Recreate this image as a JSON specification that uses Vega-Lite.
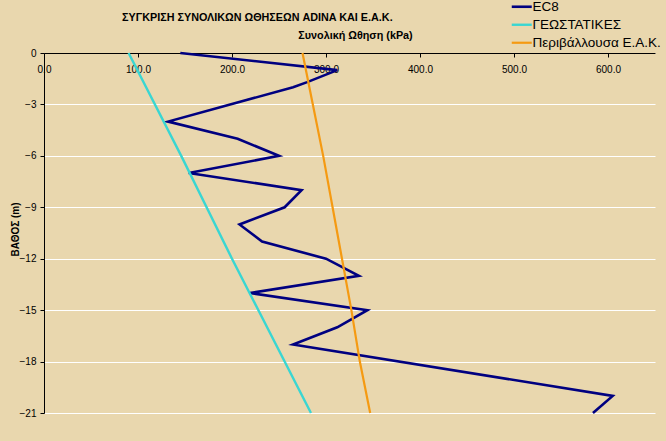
{
  "$schema": "https://vega.github.io/schema/vega-lite/v6.json",
  "width": 611,
  "height": 360,
  "autosize": {"type": "none"},
  "padding": {"left": 44, "top": 53, "right": 11, "bottom": 28},
  "background": "#E9D7AE",
  "title": {
    "text": "ΣΥΓΚΡΙΣΗ ΣΥΝΟΛΙΚΩΝ ΩΘΗΣΕΩΝ ADINA ΚΑΙ Ε.Α.Κ.",
    "font": "Liberation Sans Narrow, Liberation Sans",
    "fontSize": 10.8,
    "fontWeight": "bold",
    "color": "#000000",
    "anchor": "start",
    "frame": "group",
    "dx": 78,
    "offset": 0,
    "dy": 23
  },
  "data": {
    "values": [
      {"series": "EC8", "depth": 0, "value": 145},
      {"series": "EC8", "depth": -1, "value": 312},
      {"series": "EC8", "depth": -1.7, "value": 280},
      {"series": "EC8", "depth": -2, "value": 265},
      {"series": "EC8", "depth": -4, "value": 132},
      {"series": "EC8", "depth": -5, "value": 206},
      {"series": "EC8", "depth": -6, "value": 250},
      {"series": "EC8", "depth": -7, "value": 154},
      {"series": "EC8", "depth": -8, "value": 274},
      {"series": "EC8", "depth": -9, "value": 256},
      {"series": "EC8", "depth": -10, "value": 208},
      {"series": "EC8", "depth": -11, "value": 232},
      {"series": "EC8", "depth": -12, "value": 300},
      {"series": "EC8", "depth": -13, "value": 335},
      {"series": "EC8", "depth": -14, "value": 219},
      {"series": "EC8", "depth": -15, "value": 344},
      {"series": "EC8", "depth": -16, "value": 312},
      {"series": "EC8", "depth": -17, "value": 265},
      {"series": "EC8", "depth": -20, "value": 605},
      {"series": "EC8", "depth": -21, "value": 584},
      {"series": "ΓΕΩΣΤΑΤΙΚΕΣ", "depth": 0, "value": 90},
      {"series": "ΓΕΩΣΤΑΤΙΚΕΣ", "depth": -6, "value": 146},
      {"series": "ΓΕΩΣΤΑΤΙΚΕΣ", "depth": -12, "value": 200},
      {"series": "ΓΕΩΣΤΑΤΙΚΕΣ", "depth": -21, "value": 284},
      {"series": "Περιβάλλουσα Ε.Α.Κ.", "depth": 0, "value": 275},
      {"series": "Περιβάλλουσα Ε.Α.Κ.", "depth": -3, "value": 286},
      {"series": "Περιβάλλουσα Ε.Α.Κ.", "depth": -6, "value": 297},
      {"series": "Περιβάλλουσα Ε.Α.Κ.", "depth": -9, "value": 307},
      {"series": "Περιβάλλουσα Ε.Α.Κ.", "depth": -12, "value": 317},
      {"series": "Περιβάλλουσα Ε.Α.Κ.", "depth": -15, "value": 327},
      {"series": "Περιβάλλουσα Ε.Α.Κ.", "depth": -18, "value": 336},
      {"series": "Περιβάλλουσα Ε.Α.Κ.", "depth": -21, "value": 347}
    ]
  },
  "mark": {"type": "line", "clip": false},
  "encoding": {
    "x": {
      "field": "value",
      "type": "quantitative",
      "scale": {"domain": [0, 650], "nice": false, "zero": false},
      "axis": {
        "orient": "top",
        "title": "Συνολική Ωθηση (kPa)",
        "titleFont": "Liberation Sans",
        "titleFontSize": 10.8,
        "titleFontWeight": "bold",
        "titleColor": "#000000",
        "titleX": 311,
        "titleY": -15,
        "titleAlign": "center",
        "titleBaseline": "alphabetic",
        "values": [0, 100, 200, 300, 400, 500, 600],
        "format": ".1f",
        "labelFont": "Liberation Sans Narrow, Liberation Sans",
        "labelFontSize": 10,
        "labelColor": "#000000",
        "labelBaseline": "middle",
        "labelPadding": -12,
        "labelFlush": false,
        "labelOverlap": false,
        "tickSize": -4,
        "tickColor": "#000000",
        "domainColor": "#000000",
        "grid": false
      }
    },
    "y": {
      "field": "depth",
      "type": "quantitative",
      "scale": {"domain": [-21, 0], "nice": false, "zero": false},
      "axis": {
        "title": "ΒΑΘΟΣ (m)",
        "titleFont": "Liberation Sans",
        "titleFontSize": 10,
        "titleFontWeight": "bold",
        "titleColor": "#000000",
        "titleX": -29,
        "titleY": 176,
        "titleAngle": -90,
        "titleAlign": "center",
        "titleBaseline": "middle",
        "values": [0, -3, -6, -9, -12, -15, -18, -21],
        "format": "d",
        "labelFont": "Liberation Sans",
        "labelFontSize": 10,
        "labelColor": "#000000",
        "labelPadding": 4,
        "tickSize": 4,
        "tickColor": "#000000",
        "domainColor": "#000000",
        "grid": true,
        "gridColor": "#FFFFFF",
        "gridWidth": 1.2,
        "gridOpacity": 1
      }
    },
    "order": {"field": "depth", "sort": "descending"},
    "color": {
      "field": "series",
      "type": "nominal",
      "scale": {
        "domain": ["EC8", "ΓΕΩΣΤΑΤΙΚΕΣ", "Περιβάλλουσα Ε.Α.Κ."],
        "range": ["#000080", "#3AD6D2", "#F59A12"]
      },
      "legend": {
        "title": null,
        "orient": "none",
        "legendX": 471,
        "legendY": -53,
        "symbolType": "M-2,0H2",
        "symbolSize": 100,
        "symbolStrokeWidth": 2.5,
        "labelFont": "Liberation Sans",
        "labelFontSize": 13.5,
        "labelColor": "#000000",
        "labelOffset": 4,
        "rowPadding": 3,
        "padding": 0
      }
    },
    "strokeWidth": {
      "field": "series",
      "type": "nominal",
      "scale": {
        "domain": ["EC8", "ΓΕΩΣΤΑΤΙΚΕΣ", "Περιβάλλουσα Ε.Α.Κ."],
        "range": [2.6, 2.2, 1.6]
      },
      "legend": null
    }
  },
  "config": {
    "view": {"stroke": null}
  }
}
